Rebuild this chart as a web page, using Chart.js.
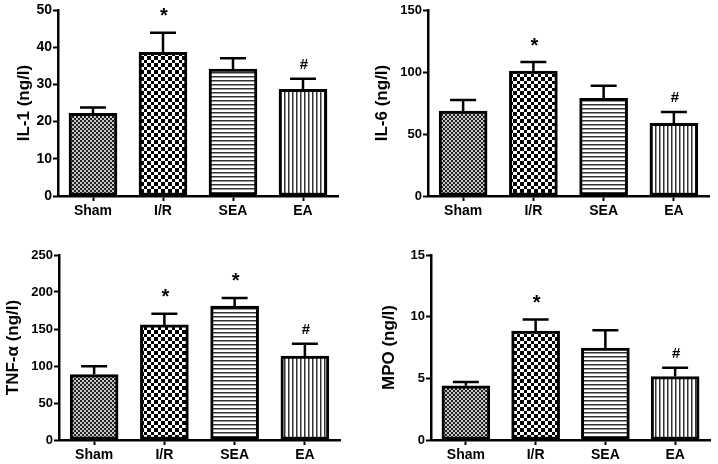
<!DOCTYPE html>
<html>
<head>
<meta charset="utf-8">
<script src="https://cdn.jsdelivr.net/npm/chart.js@4.4.0/dist/chart.umd.min.js"></script>
<style>
  html, body { margin: 0; padding: 0; background: #fff; }
  #wrap { position: relative; width: 718px; height: 464px; }
  .panel { position: absolute; width: 359px; height: 232px; }
</style>
</head>
<body>
<div id="wrap">
  <div class="panel" style="left:0;top:0"><canvas id="chartIL1"></canvas></div>
  <div class="panel" style="left:359px;top:0"><canvas id="chartIL6"></canvas></div>
  <div class="panel" style="left:0;top:232px"><canvas id="chartTNF"></canvas></div>
  <div class="panel" style="left:359px;top:232px"><canvas id="chartMPO"></canvas></div>
</div>
<script>
const groups = ['Sham', 'I/R', 'SEA', 'EA'];

const il1Mean = [22.2, 38.6, 34.1, 28.7];
const il1Sem = [1.6, 5.3, 2.9, 2.8];
const il1Marks = ['', '*', '', '#'];
const il1Ticks = [0, 10, 20, 30, 40, 50];

const il6Mean = [68.5, 100.8, 78.8, 58.6];
const il6Sem = [8.9, 7.2, 10.2, 9.1];
const il6Marks = ['', '*', '', '#'];
const il6Ticks = [0, 50, 100, 150];

const tnfMean = [88.4, 155.5, 180.9, 113.5];
const tnfSem = [11.3, 15, 11.1, 16.5];
const tnfMarks = ['', '*', '*', '#'];
const tnfTicks = [0, 50, 100, 150, 200, 250];

const mpoMean = [4.39, 8.84, 7.46, 5.14];
const mpoSem = [0.32, 0.94, 1.43, 0.71];
const mpoMarks = ['', '*', '', '#'];
const mpoTicks = [0, 5, 10, 15];

Chart.defaults.color = '#000';
Chart.defaults.font.family = '"Liberation Sans", Arial, sans-serif';
Chart.defaults.font.weight = 'bold';

// fill patterns for the four groups
function makePattern(kind) {
  const c = document.createElement('canvas');
  const g = c.getContext('2d');
  if (kind === 'fine') {
    c.width = 4; c.height = 4;
    g.fillStyle = '#c8c8c8'; g.fillRect(0, 0, 4, 4);
    g.fillStyle = '#222';
    g.fillRect(0, 0, 2, 2); g.fillRect(2, 2, 2, 2);
  } else if (kind === 'check') {
    c.width = 7; c.height = 7;
    g.fillStyle = '#fff'; g.fillRect(0, 0, 7, 7);
    g.fillStyle = '#000';
    g.fillRect(0, 0, 4, 4); g.fillRect(4, 4, 3, 3);
  } else if (kind === 'hlines') {
    c.width = 4; c.height = 4;
    g.fillStyle = '#fff'; g.fillRect(0, 0, 4, 4);
    g.fillStyle = '#333'; g.fillRect(0, 0, 4, 1.5);
  } else {
    c.width = 4; c.height = 4;
    g.fillStyle = '#fff'; g.fillRect(0, 0, 4, 4);
    g.fillStyle = '#333'; g.fillRect(0, 0, 1.5, 4);
  }
  return g.createPattern(c, 'repeat');
}
const fills = [makePattern('fine'), makePattern('check'), makePattern('hlines'), makePattern('vlines')];

const errorBars = {
  id: 'errorBars',
  afterDatasetsDraw(chart, args, opts) {
    const ctx = chart.ctx;
    const meta = chart.getDatasetMeta(0);
    const data = chart.data.datasets[0].data;
    const yScale = chart.scales.y;
    ctx.save();
    ctx.strokeStyle = '#000';
    ctx.lineWidth = 2.5;
    meta.data.forEach((bar, i) => {
      const capY = yScale.getPixelForValue(data[i] + opts.sem[i]);
      ctx.beginPath();
      ctx.moveTo(bar.x, bar.y);
      ctx.lineTo(bar.x, capY);
      ctx.moveTo(bar.x - 13, capY);
      ctx.lineTo(bar.x + 13, capY);
      ctx.stroke();
      const m = opts.marks[i];
      if (m) {
        ctx.fillStyle = '#000';
        ctx.textAlign = 'center';
        ctx.textBaseline = 'middle';
        ctx.font = m === '*' ? 'bold 20px "Liberation Sans", Arial' : 'bold 15px "Liberation Sans", Arial';
        ctx.fillText(m, bar.x + 1, capY - (m === '*' ? 16 : 14));
      }
    });
    ctx.restore();
  }
};

function makeChart(id, title, mean, sem, marks, ticks, box) {
  const ctx = document.getElementById(id);
  if (!ctx) return;
  return new Chart(ctx, {
    type: 'bar',
    data: {
      labels: groups,
      datasets: [{
        data: mean,
        backgroundColor: fills,
        borderColor: '#000',
        borderWidth: 3,
        borderSkipped: false,
        barThickness: 48
      }]
    },
    options: {
      responsive: true,
      maintainAspectRatio: false,
      animation: false,
      layout: { padding: { left: 0, right: 359 - box.right, top: box.top, bottom: 0 } },
      plugins: {
        legend: { display: false },
        tooltip: { enabled: false },
        errorBars: { sem: sem, marks: marks }
      },
      scales: {
        x: {
          offset: true,
          afterFit: (s) => { s.height = box.xh; },
          ticks: { font: { size: 14, weight: 'bold' }, padding: 2, color: '#000' },
          grid: { display: true, drawOnChartArea: false, offset: false, tickLength: 5, tickWidth: 2, tickColor: '#000' },
          border: { display: true, color: '#000', width: 2.5 }
        },
        y: {
          min: ticks[0],
          max: ticks[ticks.length - 1],
          afterFit: (s) => { s.width = box.left; },
          afterBuildTicks: (s) => { s.ticks = ticks.map(v => ({ value: v })); },
          ticks: { font: { size: box.fs, weight: 'bold' }, padding: 1, color: '#000' },
          title: { display: true, text: title, font: { size: 17, weight: 'bold' }, color: '#000', padding: { top: box.tp } },
          grid: { display: true, drawOnChartArea: false, tickLength: 5, tickWidth: 2, tickColor: '#000' },
          border: { display: true, color: '#000', width: 2.5 }
        }
      }
    },
    plugins: [errorBars]
  });
}

makeChart('chartIL1', 'IL-1 (ng/l)', il1Mean, il1Sem, il1Marks, il1Ticks, { left: 58, right: 338, top: 10, xh: 36, tp: 14, fs: 14 });
makeChart('chartIL6', 'IL-6 (ng/l)', il6Mean, il6Sem, il6Marks, il6Ticks, { left: 69, right: 350, top: 10, xh: 36, tp: 13, fs: 13 });
makeChart('chartTNF', 'TNF-α (ng/l)', tnfMean, tnfSem, tnfMarks, tnfTicks, { left: 59, right: 340, top: 23, xh: 24, tp: 3, fs: 13 });
makeChart('chartMPO', 'MPO (ng/l)', mpoMean, mpoSem, mpoMarks, mpoTicks, { left: 72, right: 351, top: 23, xh: 24, tp: 20, fs: 13 });
</script>
</body>
</html>
